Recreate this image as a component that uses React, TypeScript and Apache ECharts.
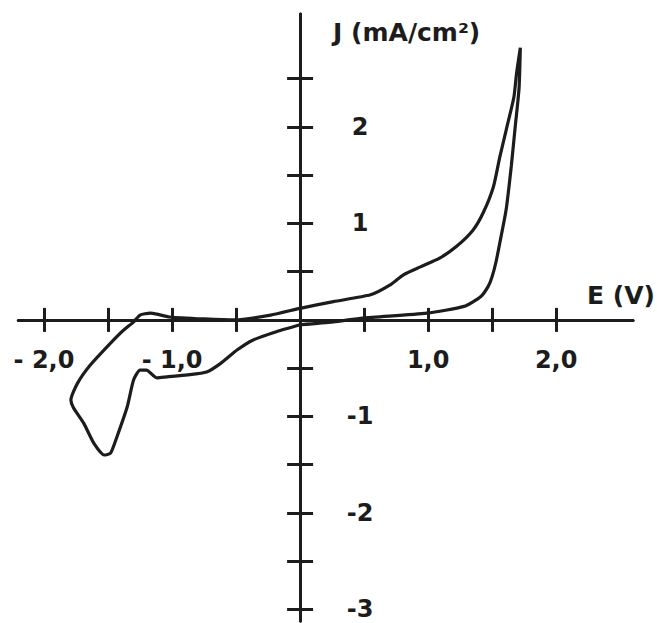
import React, { useEffect, useRef } from "react";
import * as echarts from "echarts";

// Cyclic voltammogram: potential E (V) vs current density J (mA/cm²), in scan order
const potentialE: number[] = [
  0, 0.26, 0.49, 0.99, 1.28, 1.41, 1.47, 1.5, 1.53, 1.56, 1.61, 1.65, 1.68, 1.71, 1.72,
  1.69, 1.67, 1.61, 1.56, 1.51, 1.43, 1.35, 1.22, 1.09, 0.94, 0.81, 0.7, 0.55, 0.26, 0,
  -0.23, -0.51, -0.75, -1.02, -1.12, -1.17, -1.25, -1.3, -1.39, -1.48, -1.64, -1.74, -1.79,
  -1.77, -1.69, -1.61, -1.53, -1.48, -1.43, -1.35, -1.3, -1.25, -1.2, -1.12, -1.04, -0.88,
  -0.73, -0.62, -0.49, -0.37, -0.18, 0,
];
const currentJ: number[] = [
  -0.05, -0.02, 0.02, 0.07, 0.14, 0.24, 0.35, 0.45, 0.6, 0.8, 1.15, 1.6, 2.0, 2.4, 2.82,
  2.55, 2.31, 1.97, 1.69, 1.38, 1.11, 0.93, 0.76, 0.64, 0.55, 0.47, 0.36, 0.26, 0.19, 0.12,
  0.05, 0.0, 0.01, 0.03, 0.06, 0.07, 0.05, -0.02, -0.12, -0.24, -0.47, -0.66, -0.83,
  -0.91, -1.07, -1.28, -1.4, -1.38, -1.21, -0.9, -0.62, -0.52, -0.52, -0.6, -0.59, -0.57,
  -0.54, -0.45, -0.31, -0.21, -0.12, -0.05,
];

const xTicks: number[] = [-2, -1.5, -1, -0.5, 0.5, 1, 1.5, 2];
const xLabels: number[] = [-2, -1, 1, 2];
const yTicks: number[] = [-3, -2.5, -2, -1.5, -1, -0.5, 0.5, 1, 1.5, 2, 2.5];
const yLabels: number[] = [-3, -2, -1, 1, 2];

const X_MIN = -2.2;
const X_MAX = 2.6;
const Y_MIN = -3.12;
const Y_MAX = 3.17;

const INK = "#1c1c1c";
const FONT = "DejaVu Sans";

export default function App() {
  const ref = useRef<HTMLDivElement>(null);
  useEffect(() => {
    if (!ref.current) return;
    const W = 657;
    const H = 623;
    const gl = 18.4;
    const gr = 24;
    const gt = 14;
    const gb = 2;
    const gw = W - gl - gr;
    const gh = H - gt - gb;
    // pixel position of the zero lines inside the grid
    const x0 = gl + ((0 - X_MIN) / (X_MAX - X_MIN)) * gw;
    const y0 = gt + ((Y_MAX - 0) / (Y_MAX - Y_MIN)) * gh;

    const chart = echarts.init(ref.current, undefined, { renderer: "svg" });
    const data = potentialE.map((e, i) => [e, currentJ[i]]);
    const axisLine = { onZero: false, lineStyle: { color: INK, width: 3 } };
    const tickStyle = { color: INK, width: 3 };
    const xFmt = (v: number) => {
      const s = Math.abs(v).toFixed(1).replace(".", ",");
      return v < 0 ? "- " + s : s;
    };
    chart.setOption({
      animation: false,
      backgroundColor: "#ffffff",
      grid: {
        left: gl,
        right: gr,
        top: gt,
        bottom: gb,
        containLabel: false,
        outerBoundsMode: "none",
      },
      xAxis: [
        {
          type: "value",
          min: X_MIN,
          max: X_MAX,
          position: "bottom",
          offset: -(gt + gh - y0),
          axisLine,
          axisTick: { show: true, customValues: xTicks, length: 12, inside: false, lineStyle: tickStyle },
          axisLabel: {
            customValues: xLabels,
            formatter: xFmt,
            margin: 28,
            color: INK,
            fontFamily: FONT,
            fontWeight: "bold",
            fontSize: 24,
          },
          splitLine: { show: false },
          name: "E (V)",
          nameLocation: "end",
          nameGap: 22,
          nameMoveOverlap: false,
          nameTextStyle: {
            align: "right",
            verticalAlign: "bottom",
            padding: [0, 0, 12, 0],
            color: INK,
            fontFamily: FONT,
            fontWeight: "bold",
            fontSize: 25,
          },
        },
        {
          type: "value",
          min: X_MIN,
          max: X_MAX,
          position: "top",
          offset: -(y0 - gt),
          axisLine,
          axisTick: { show: true, customValues: xTicks, length: 12, inside: false, lineStyle: tickStyle },
          axisLabel: { show: false },
          splitLine: { show: false },
        },
      ],
      yAxis: [
        {
          type: "value",
          min: Y_MIN,
          max: Y_MAX,
          position: "left",
          offset: -(x0 - gl),
          axisLine,
          axisTick: { show: true, customValues: yTicks, length: 13, inside: false, lineStyle: tickStyle },
          axisLabel: {
            customValues: yLabels,
            inside: true,
            align: "center",
            margin: 60,
            formatter: (v: number) => String(v),
            color: INK,
            fontFamily: FONT,
            fontWeight: "bold",
            fontSize: 24,
          },
          splitLine: { show: false },
          name: "J (mA/cm²)",
          nameLocation: "end",
          nameGap: -6,
          nameMoveOverlap: false,
          nameTextStyle: {
            align: "left",
            verticalAlign: "top",
            padding: [0, 0, 0, 33],
            color: INK,
            fontFamily: FONT,
            fontWeight: "bold",
            fontSize: 25,
          },
        },
        {
          type: "value",
          min: Y_MIN,
          max: Y_MAX,
          position: "right",
          offset: -(gl + gw - x0),
          axisLine,
          axisTick: { show: true, customValues: yTicks, length: 13, inside: false, lineStyle: tickStyle },
          axisLabel: { show: false },
          splitLine: { show: false },
        },
      ],
      series: [
        {
          type: "line",
          xAxisIndex: 0,
          yAxisIndex: 0,
          data,
          symbol: "none",
          smooth: 0.2,
          lineStyle: { color: INK, width: 3.2 },
          z: 3,
        },
      ],
    });
    return () => chart.dispose();
  }, []);
  return (
    <div
      ref={ref}
      style={{ position: "absolute", left: 0, top: 0, width: 657, height: 623, background: "#fff" }}
    />
  );
}
